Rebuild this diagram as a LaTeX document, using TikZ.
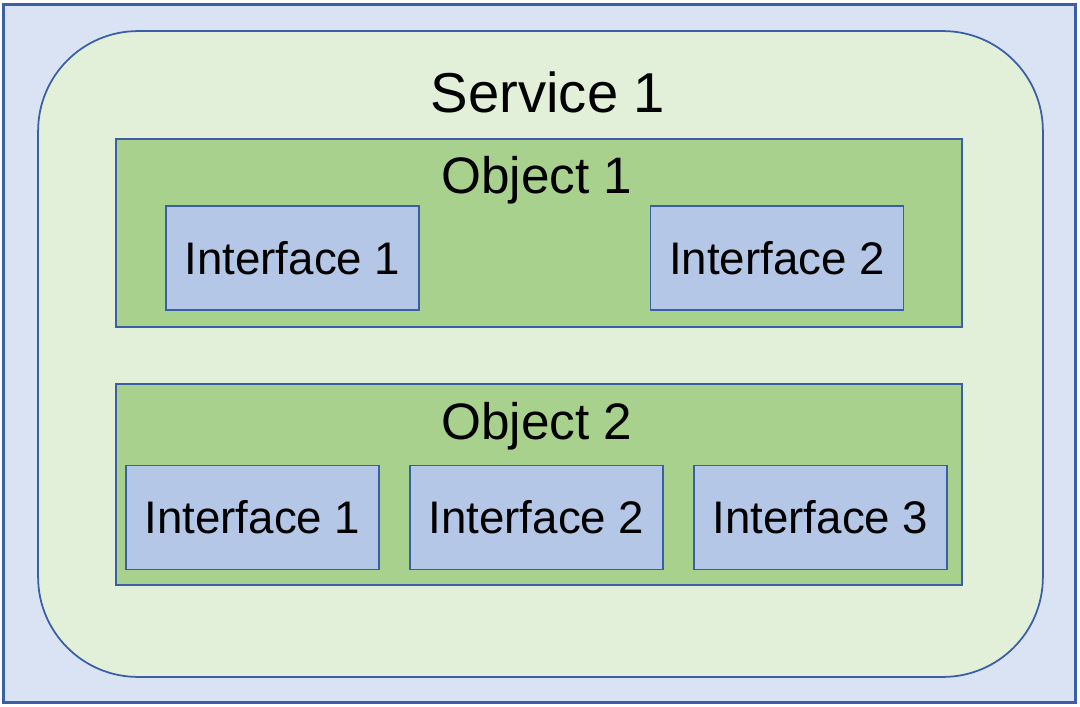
\documentclass[tikz,border=0pt]{standalone}
\usepackage{fontspec}
\setmainfont{Liberation Sans}
\definecolor{outerfill}{HTML}{DAE3F3}
\definecolor{servfill}{HTML}{E2F0D9}
\definecolor{objfill}{HTML}{A9D18E}
\definecolor{iffill}{HTML}{B4C7E7}
\definecolor{edgeblue}{HTML}{3A5FA6}
\tikzset{
  outerbox/.style={draw=edgeblue, fill=outerfill, line width=1.3pt, inner sep=0pt,
    minimum width=21.44cm, minimum height=13.96cm},
  servicebox/.style={draw=edgeblue, fill=servfill, line width=1pt, inner sep=0pt,
    rounded corners=2cm, minimum width=20.1cm, minimum height=12.92cm},
  objbox/.style={draw=edgeblue, fill=objfill, line width=1.1pt, inner sep=0pt,
    minimum width=16.92cm},
  ifacebox/.style={draw=edgeblue, fill=iffill, line width=1.1pt, inner sep=0pt,
    minimum width=5.06cm, minimum height=2.08cm, font=\fontsize{26}{27}\selectfont},
  titletext/.style={anchor=base, inner sep=0pt}
}
\begin{document}
\begin{tikzpicture}[x=0.02cm, y=-0.02cm]
  \useasboundingbox (0,0) rectangle (1080,707);

  % frame and service
  \node[outerbox] (frame) at (539.5,353.5) {};
  \node[servicebox] (service) at (540.5,354) {};
  \node[titletext, font=\fontsize{32}{33}\selectfont] (servlabel) at (548,112) {Service 1};

  % object 1
  \node[objbox, minimum height=3.76cm] (obj1) at (539,233) {};
  \node[titletext, font=\fontsize{29.2}{30}\selectfont] (obj1label) at (537,193) {Object 1};
  \node[ifacebox] (obj1if1) at (292.5,258) {Interface 1};
  \node[ifacebox] (obj1if2) at (777,258) {Interface 2};

  % object 2
  \node[objbox, minimum height=4.02cm] (obj2) at (539,484.5) {};
  \node[titletext, font=\fontsize{29.2}{30}\selectfont] (obj2label) at (537,439) {Object 2};
  \node[ifacebox] (obj2if1) at (252.5,517.5) {Interface 1};
  \node[ifacebox] (obj2if2) at (536.5,517.5) {Interface 2};
  \node[ifacebox] (obj2if3) at (820.5,517.5) {Interface 3};
\end{tikzpicture}
\end{document}
